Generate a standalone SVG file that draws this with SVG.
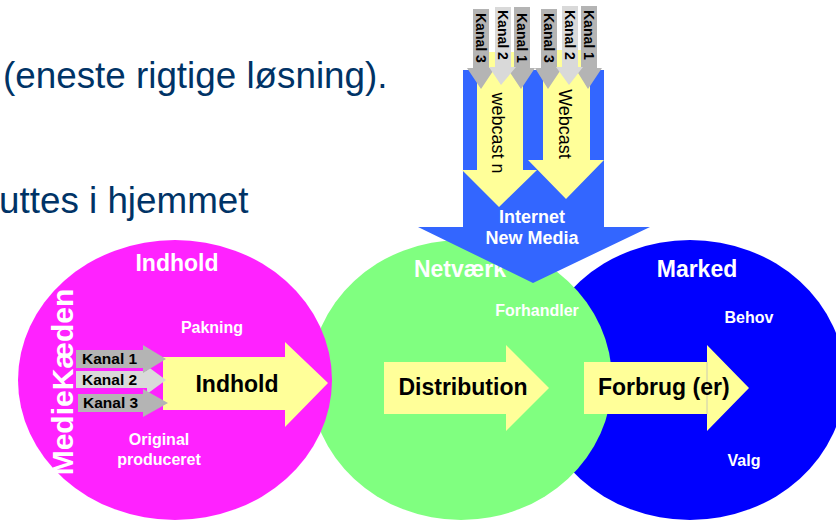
<svg xmlns="http://www.w3.org/2000/svg" width="836" height="521" viewBox="0 0 836 521">
<style>
.w{fill:#fff;font-family:"Liberation Sans",Arial,sans-serif;font-weight:bold}
.k{fill:#000;font-family:"Liberation Sans",Arial,sans-serif;font-weight:bold}
.n{fill:#000;font-family:"Liberation Sans",Arial,sans-serif}
.t{fill:#003366;font-family:"Liberation Sans",Arial,sans-serif;font-size:36.8px}
.y{fill:#FFFF99}
.g1{fill:#B4B4B4}
.g2{fill:#D9D9D9}
</style>
<rect width="836" height="521" fill="#fff"/>
<g id="header">
<text class="t" x="3" y="88">(eneste rigtige løsning).</text>
<text class="t" x="-1" y="213">uttes i hjemmet</text>
</g>
<g id="marked">
<ellipse cx="690" cy="380" rx="155" ry="140" fill="#0000FF"/>
<text class="w" x="697" y="277" font-size="23" text-anchor="middle">Marked</text>
<text class="w" x="749" y="323" font-size="16" text-anchor="middle">Behov</text>
<text class="w" x="744" y="466" font-size="16" text-anchor="middle">Valg</text>
</g>
<g id="netvaerk">
<ellipse cx="461" cy="380" rx="151" ry="140" fill="#80FF80"/>
<text class="w" x="460" y="277" font-size="23" text-anchor="middle">Netværk</text>
<text class="w" x="537" y="316" font-size="16" text-anchor="middle">Forhandler</text>
</g>
<g id="indhold">
<ellipse cx="175" cy="380" rx="157" ry="140" fill="#FF22FF"/>
<text class="w" x="177" y="271" font-size="23" text-anchor="middle">Indhold</text>
<text class="w" x="212" y="333" font-size="16" text-anchor="middle">Pakning</text>
<text class="w" x="159" y="445" font-size="16" text-anchor="middle">Original</text>
<text class="w" x="159" y="465" font-size="16" text-anchor="middle">produceret</text>
<text class="w" transform="translate(73,382) rotate(-90)" font-size="30" text-anchor="middle">MedieKæden</text>
</g>
<g id="connectors">
<g id="indhold-arrow">
<polygon class="y" points="163,357 285,357 285,342 328,383 285,427 285,410 163,410"/>
<text class="k" x="237" y="392" font-size="23" text-anchor="middle">Indhold</text>
</g>
<g id="kanal-left">
<polygon class="g2" points="76,371 147,371 147,366 166,380 147,394 147,388 76,388"/>
<polygon class="g1" points="76,350 143,350 143,345 166,359 143,373 143,368 76,368"/>
<polygon class="g1" points="78,394 143,394 143,389 168,403 143,417 143,412 78,412"/>
<text class="k" x="82" y="364" font-size="15.5">Kanal 1</text>
<text class="k" x="82" y="385" font-size="15.5">Kanal 2</text>
<text class="k" x="83" y="408" font-size="15.5">Kanal 3</text>
</g>
<g id="distribution-arrow">
<polygon class="y" points="384,362 506,362 506,345 549,388 506,431 506,414 384,414"/>
<text class="k" x="463" y="395" font-size="23" text-anchor="middle">Distribution</text>
</g>
<g id="forbrug-arrow">
<polygon class="y" points="584,362 707,362 707,345 749,388 707,431 707,414 584,414"/>
<line x1="707" y1="362" x2="707" y2="414" stroke="#BDBDBD" stroke-width="0.8"/>
<text class="k" x="598" y="395" font-size="23">Forbrug (er)</text>
</g>
<g id="internet-arrow">
<polygon fill="#3366FF" points="463,70 604,70 604,227 650,227 533,283 418,227 463,227"/>
<text class="w" x="532" y="223" font-size="18" text-anchor="middle">Internet</text>
<text class="w" x="532" y="244" font-size="18" text-anchor="middle">New Media</text>
</g>
<g id="webcast-n">
<polygon class="y" points="477,52 523,52 523,170 537,170 499,207 462,170 477,170"/>
<text class="n" transform="translate(492,133) rotate(90)" font-size="18" text-anchor="middle">webcast n</text>
</g>
<g id="webcast">
<polygon class="y" points="543,50 590,50 590,160 604,160 566,199 528,160 543,160"/>
<text class="n" transform="translate(559,124) rotate(90)" font-size="18" text-anchor="middle">Webcast</text>
</g>
<g id="kanal-top-1">
<polygon class="g1" points="473,9 489,9 489,68 495,68 481,89 467,68 473,68"/>
<polygon class="g1" points="514,7 530,7 530,68 535,68 521,89 507,68 514,68"/>
<polygon class="g2" points="495,7 511,7 511,67 516,67 501,85 489,67 495,67"/>
<text class="k" transform="translate(476,13) rotate(90)" font-size="14">Kanal 3</text>
<text class="k" transform="translate(498,10) rotate(90)" font-size="14">Kanal 2</text>
<text class="k" transform="translate(517,13) rotate(90)" font-size="14">Kanal 1</text>
</g>
<g id="kanal-top-2">
<polygon class="g1" points="541,9 557,9 557,68 562,68 548,89 535,68 541,68"/>
<polygon class="g1" points="581,6 597,6 597,68 602,68 588,89 575,68 581,68"/>
<polygon class="g2" points="562,6 578,6 578,67 583,67 569,85 556,67 562,67"/>
<text class="k" transform="translate(544,13) rotate(90)" font-size="14">Kanal 3</text>
<text class="k" transform="translate(565,10) rotate(90)" font-size="14">Kanal 2</text>
<text class="k" transform="translate(584,10) rotate(90)" font-size="14">Kanal 1</text>
</g>
</g>
</svg>
